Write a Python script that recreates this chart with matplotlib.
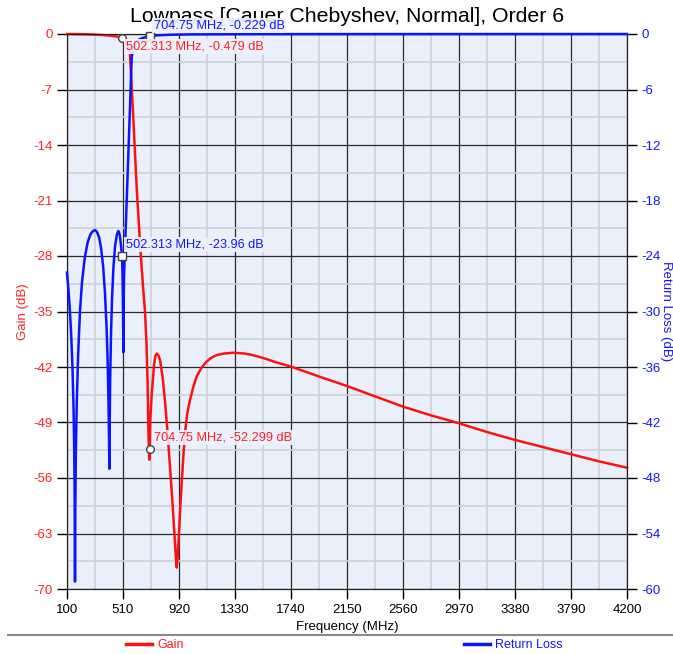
import matplotlib.pyplot as plt
from matplotlib.lines import Line2D
import numpy as np

plt.rcParams['font.family'] = ['Liberation Sans', 'DejaVu Sans']
plt.rcParams['axes.unicode_minus'] = False

# gain curve (left axis, dB)
freq_gain = [100, 200, 300, 400, 460, 502.313, 520, 540, 561, 586, 610, 635, 655, 671,
             682, 690, 696, 701, 703, 704.75, 710, 720, 737, 747, 757, 768, 781, 800,
             817, 835, 854, 870, 886, 897, 903, 910, 920, 930, 940, 952, 964, 980, 1000,
             1025, 1049, 1085, 1123, 1160, 1196, 1250, 1318, 1400, 1460, 1513, 1570,
             1620, 1680, 1740, 1945, 2150, 2355, 2560, 2765, 2970, 3175, 3380, 3585,
             3790, 3995, 4200]
gain_db = [0.0, -0.02, -0.07, -0.18, -0.3, -0.479, -0.8, -1.4, -2.5, -10.8, -19.3, -26.5,
           -31.5, -35.0, -39.0, -44.0, -50.0, -53.2, -53.7, -52.299, -48.5, -45.5, -41.8,
           -40.6, -40.3, -40.5, -41.1, -43.3, -46.2, -50.0, -54.6, -58.5, -62.9, -66.0,
           -67.3, -66.0, -62.9, -59.5, -56.6, -53.2, -50.3, -47.9, -46.2, -44.5, -43.2,
           -42.1, -41.3, -40.8, -40.5, -40.3, -40.2, -40.3, -40.5, -40.75, -41.05,
           -41.35, -41.65, -41.95, -43.2, -44.4, -45.7, -47.0, -48.1, -49.1, -50.2,
           -51.2, -52.1, -53.0, -53.9, -54.7]

# return loss curve (right axis, dB)
freq_rl = [100, 110, 120, 130, 140, 148, 153, 156, 158.6, 161, 165, 172, 182, 195, 210,
           230, 250, 270, 290, 305, 320, 335, 350, 365, 378, 390, 398, 404, 408, 410,
           412, 416, 422, 430, 440, 452, 465, 475, 481, 488, 495, 502.313, 506, 509,
           511, 512.5, 514, 518, 525, 540, 555, 565, 574, 590, 605, 622, 650, 680,
           704.75, 750, 850, 1000, 1500, 4200]
rl_db = [-25.8, -27.5, -29.6, -32.3, -36.0, -40.5, -45.0, -50.0, -59.2, -51.0, -45.0,
         -39.5, -34.5, -30.0, -26.8, -24.2, -22.6, -21.7, -21.3, -21.2, -21.4, -22.0,
         -23.2, -25.2, -28.0, -31.8, -35.5, -40.0, -44.0, -47.0, -43.0, -37.5, -32.5,
         -28.5, -25.2, -22.9, -21.7, -21.3, -21.4, -21.9, -22.8, -23.96, -25.5, -28.5,
         -31.5, -34.4, -30.0, -26.0, -23.0, -16.8, -10.5, -6.3, -2.45, -1.3, -0.85,
         -0.65, -0.45, -0.32, -0.229, -0.15, -0.08, -0.04, -0.01, 0.0]

# markers
mk_freq = [502.313, 704.75]
mk_gain = [-0.479, -52.299]
mk_rl = [-23.96, -0.229]

xticks = [100, 510, 920, 1330, 1740, 2150, 2560, 2970, 3380, 3790, 4200]

fig = plt.figure(figsize=(6.73, 6.54), dpi=100)
ax = fig.add_axes([67/673, 1-589/654, 560/673, 555/654])
ax.set_facecolor('#E9F0FB')

ax.plot(freq_gain, gain_db, color='#FF1010', linewidth=1.8, clip_on=False, zorder=3)
ax.set_xlim(100, 4200)
ax.set_ylim(-70, 0)
ax.set_xticks(xticks)
ax.set_xticks(np.arange(305, 4200, 410), minor=True)
ax.set_yticks(np.arange(-70, 1, 7))
ax.set_yticks(np.arange(-66.5, 0, 7), minor=True)
ax.grid(True, which='minor', color='#CDD0D6', linewidth=1.2)
ax.grid(True, which='major', color='#2A2A2A', linewidth=0.9)
ax.set_axisbelow(True)
ax.tick_params(which='major', direction='out', length=7, width=1, labelsize=9.5)
ax.tick_params(which='minor', length=0)
ax.tick_params(axis='y', labelcolor='#FF2020')
for s in ax.spines.values():
    s.set_color('#202020')
ax.set_xlabel('Frequency (MHz)', fontsize=9.5, labelpad=4)
ax.set_ylabel('Gain (dB)', fontsize=9.5, color='#FF2020', labelpad=3)

ax.text(347/673, 1-17/654, 'Lowpass [Cauer Chebyshev, Normal], Order 6',
        transform=fig.transFigure, ha='center', va='center', fontsize=15.3)

ax2 = ax.twinx()
ax2.plot(freq_rl, rl_db, color='#0A14FF', linewidth=1.8, clip_on=False, zorder=3)
ax2.set_ylim(-60, 0)
ax2.set_yticks(np.arange(-60, 1, 6))
ax2.tick_params(direction='out', length=7, width=1, labelsize=9.5, labelcolor='#1515FF')
ax2.set_ylabel('Return Loss (dB)', fontsize=9.5, color='#1515FF', rotation=270, labelpad=8)
for s in ax2.spines.values():
    s.set_color('#202020')

# marker points
ax2.plot(mk_freq, mk_gain, 'o', transform=ax.transData, markersize=5.5,
         markerfacecolor='white', markeredgecolor='#404040', zorder=5, clip_on=False)
ax2.plot(mk_freq, mk_rl, 's', markersize=5.5, markerfacecolor='white',
         markeredgecolor='#404040', zorder=5, clip_on=False)

box = dict(boxstyle='square,pad=0.12', fc='#EEF2FD', ec='none', alpha=0.92)
for f, g in zip(mk_freq, mk_gain):
    off = (4, -9) if g > -10 else (4, 11)
    ax2.annotate('%s MHz, %s dB' % (f, g), xy=(f, g), xycoords=ax.transData,
                 xytext=off, textcoords='offset pixels', ha='left', va='center',
                 fontsize=9.2, color='#FF2020', bbox=box, zorder=6, annotation_clip=False)
for f, r in zip(mk_freq, mk_rl):
    ax2.annotate('%s MHz, %s dB' % (f, r), xy=(f, r), xytext=(4, 11),
                 textcoords='offset pixels', ha='left', va='center',
                 fontsize=9.2, color='#1515FF', bbox=box, zorder=6, annotation_clip=False)

# legend area
fig.add_artist(Line2D([8/673, 1], [1-635/654, 1-635/654], color='#8A8A8A', linewidth=1.5))
h1 = Line2D([], [], color='#FF1010', linewidth=2.5)
h2 = Line2D([], [], color='#0A14FF', linewidth=2.5)
fig.legend([h1], ['Gain'], loc='center left', bbox_to_anchor=(126/673, 1-645/654),
           frameon=False, fontsize=9, labelcolor='#FF2020', handlelength=2.1,
           handletextpad=0.4, borderpad=0, borderaxespad=0)
fig.legend([h2], ['Return Loss'], loc='center left', bbox_to_anchor=(464/673, 1-645/654),
           frameon=False, fontsize=9, labelcolor='#1515FF', handlelength=2.1,
           handletextpad=0.4, borderpad=0, borderaxespad=0)

fig.savefig('out.png', dpi=100)
